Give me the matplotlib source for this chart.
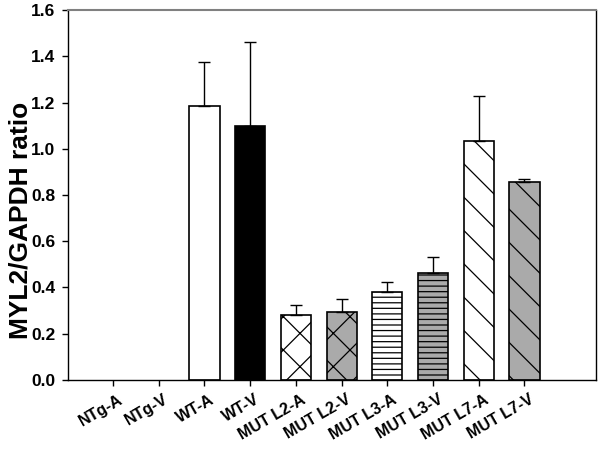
import matplotlib
matplotlib.use("Agg")
import matplotlib.pyplot as plt
import matplotlib.transforms as mtransforms
import numpy as np

plt.rcParams['font.family'] = ['Liberation Sans', 'DejaVu Sans']
plt.rcParams['hatch.linewidth'] = 0.9

categories = ["NTg-A", "NTg-V", "WT-A", "WT-V", "MUT L2-A", "MUT L2-V",
              "MUT L3-A", "MUT L3-V", "MUT L7-A", "MUT L7-V"]
values = [0.0, 0.0, 1.187, 1.098, 0.283, 0.295, 0.380, 0.462, 1.035, 0.857]
errors = [0.0, 0.0, 0.188, 0.362, 0.040, 0.055, 0.044, 0.068, 0.195, 0.013]
faces = ["white", "white", "white", "black", "white", "#aaaaaa",
         "white", "#aaaaaa", "white", "#aaaaaa"]
hatches = [None, None, None, None, "x", "x", "---", "---", "\\", "\\"]
yticks = [0.0, 0.2, 0.4, 0.6, 0.8, 1.0, 1.2, 1.4, 1.6]

fig = plt.figure(figsize=(6, 4.49), dpi=100)
ax = fig.add_axes([0.113, 0.1537, 0.88, 0.824])

x = np.arange(len(categories))
for i in range(len(categories)):
    if values[i] <= 0:
        continue
    ax.bar(x[i], values[i], width=0.66, color=faces[i], edgecolor="black",
           linewidth=1.2, hatch=hatches[i], zorder=2)
    ax.errorbar(x[i], values[i], yerr=[[0], [errors[i]]], fmt="none",
                ecolor="black", elinewidth=1.0, capsize=4, capthick=1.0, zorder=3)

ax.set_xlim(-0.99, 10.56)
ax.set_ylim(0, 1.6)
ax.set_yticks(yticks)
ax.set_yticklabels([f"{t:.1f}" for t in yticks], fontsize=12.5, fontweight="bold")
ax.set_xticks(x)
ax.set_xticklabels([""] * len(categories))

trans = mtransforms.blended_transform_factory(ax.transData, ax.transAxes)
offset = mtransforms.ScaledTranslation(12 / 100, -12 / 100, fig.dpi_scale_trans)
for i, lab in enumerate(categories):
    ax.text(x[i], 0, lab, transform=trans + offset, rotation=30,
            ha="right", va="top", fontsize=11.5, fontweight="bold")

ax.tick_params(axis="both", direction="out", length=4, width=1)
ax.tick_params(axis="y", pad=5)
ax.set_ylabel("MYL2/GAPDH ratio", fontsize=19, fontweight="bold")
ax.yaxis.set_label_coords(-0.067, 0.432)

for s in ["left", "bottom", "right"]:
    ax.spines[s].set_linewidth(1.0)
ax.spines["top"].set_color("#808080")
ax.spines["top"].set_linewidth(1.5)

fig.savefig("out.png", dpi=100)
